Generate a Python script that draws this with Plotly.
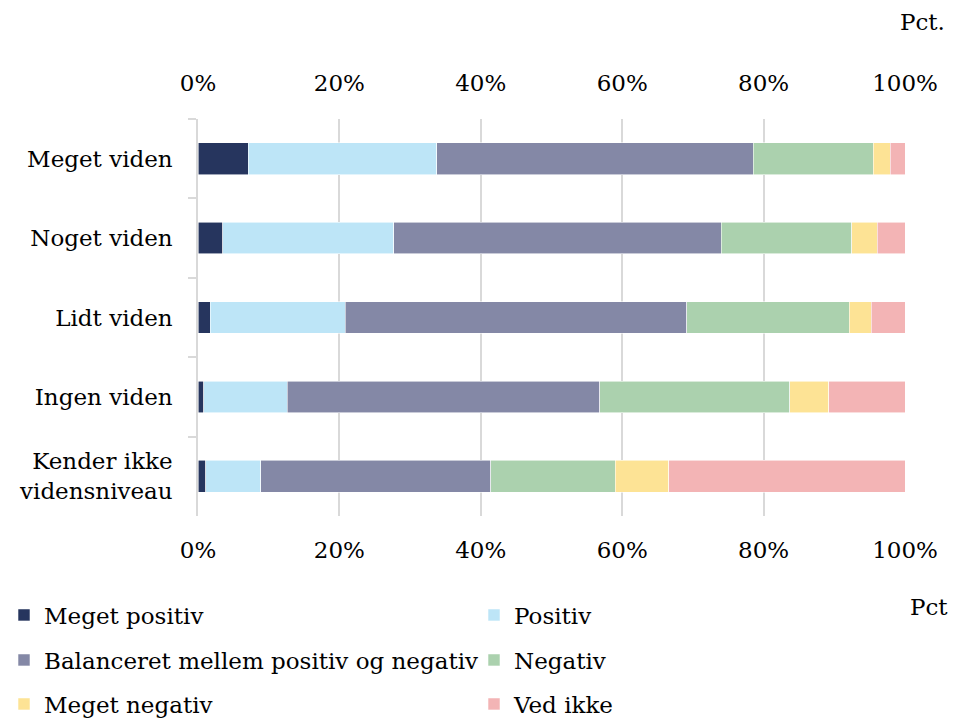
import plotly.graph_objects as go

categories = ["Meget viden", "Noget viden", "Lidt viden", "Ingen viden", "Kender ikke<br>vidensniveau"]
series_names = ["Meget positiv", "Positiv", "Balanceret mellem positiv og negativ", "Negativ", "Meget negativ", "Ved ikke"]
meget_positiv = [7.1, 3.5, 1.7, 0.8, 1.1]
positiv = [26.7, 24.2, 19.1, 11.8, 7.8]
balanceret = [44.7, 46.3, 48.3, 44.2, 32.5]
negativ = [17.0, 18.5, 23.0, 26.9, 17.6]
meget_negativ = [2.4, 3.6, 3.1, 5.5, 7.6]
ved_ikke = [2.1, 3.9, 4.8, 10.8, 33.4]
tick_vals = [0, 20, 40, 60, 80, 100]
tick_text = ["0%", "20%", "40%", "60%", "80%", "100%"]

colors = ["#26355E", "#BDE5F7", "#8488A6", "#ABD1AE", "#FDE395", "#F3B4B5"]
values = [meget_positiv, positiv, balanceret, negativ, meget_negativ, ved_ikke]
legend_ids = ["legend", "legend2", "legend3", "legend4", "legend5", "legend6"]
legend_pos = [(4, 615), (474, 615), (4, 660), (474, 660), (4, 704), (474, 704)]

FONT = "DejaVu Serif"
FS = 23
fig = go.Figure()
for name, vals, col, lg in zip(series_names, values, colors, legend_ids):
    fig.add_trace(go.Bar(
        y=categories, x=vals, name=name, orientation="h",
        marker=dict(color=col, line=dict(color="rgba(255,255,255,0.7)", width=0.8)),
        legend=lg, hoverinfo="x+name",
    ))
# invisible trace for top axis
fig.add_trace(go.Scatter(x=[0, 100], y=[categories[0], categories[0]], xaxis="x2",
                         mode="markers", marker=dict(opacity=0), showlegend=False, hoverinfo="skip"))

def axis_common(standoff):
    return dict(range=[0, 100], tickvals=tick_vals, ticktext=tick_text,
                tickfont=dict(family=FONT, size=FS, color="#000"),
                showline=False, zeroline=False, ticks="", ticklabelstandoff=standoff)

def legend_cfg(xpix, ypix):
    return dict(orientation="h", x=xpix / 953, xref="container", y=1 - ypix / 721, yref="container",
                xanchor="left", yanchor="middle",
                font=dict(family=FONT, size=FS), bgcolor="rgba(0,0,0,0)", traceorder="normal")

legend_layout = {lid: legend_cfg(px, py) for lid, (px, py) in zip(legend_ids, legend_pos)}

fig.update_layout(
    width=953, height=721,
    margin=dict(l=198, r=48, t=119, b=205),
    paper_bgcolor="white", plot_bgcolor="white",
    barmode="stack", bargap=0.6,
    font=dict(family=FONT, size=FS, color="#000"),
    xaxis=dict(**axis_common(18), showgrid=True, gridcolor="#D9D9D9", gridwidth=1.5, side="bottom"),
    xaxis2=dict(**axis_common(22), showgrid=False, overlaying="x", side="top", matches="x"),
    yaxis=dict(autorange="reversed", showline=True, linecolor="#D9D9D9", linewidth=1.5,
               ticks="outside", ticklen=8, tickcolor="#D9D9D9", tickwidth=1.5,
               tickson="boundaries", showgrid=False,
               tickfont=dict(family=FONT, size=FS, color="#000"), ticklabelstandoff=19),
    annotations=[
        dict(text="Pct.", xref="paper", yref="paper", x=(947 - 198) / 707, y=1 + (119 - 22) / 397,
             xanchor="right", yanchor="middle", showarrow=False, font=dict(family=FONT, size=FS)),
        dict(text="Pct", xref="paper", yref="paper", x=(950 - 198) / 707, y=-(607 - 516) / 397,
             xanchor="right", yanchor="middle", showarrow=False, font=dict(family=FONT, size=FS)),
    ],
    **legend_layout,
)
fig.write_html("out.html", config={"displayModeBar": False},
               post_script="document.body.style.margin='0';document.body.style.overflow='hidden';")
